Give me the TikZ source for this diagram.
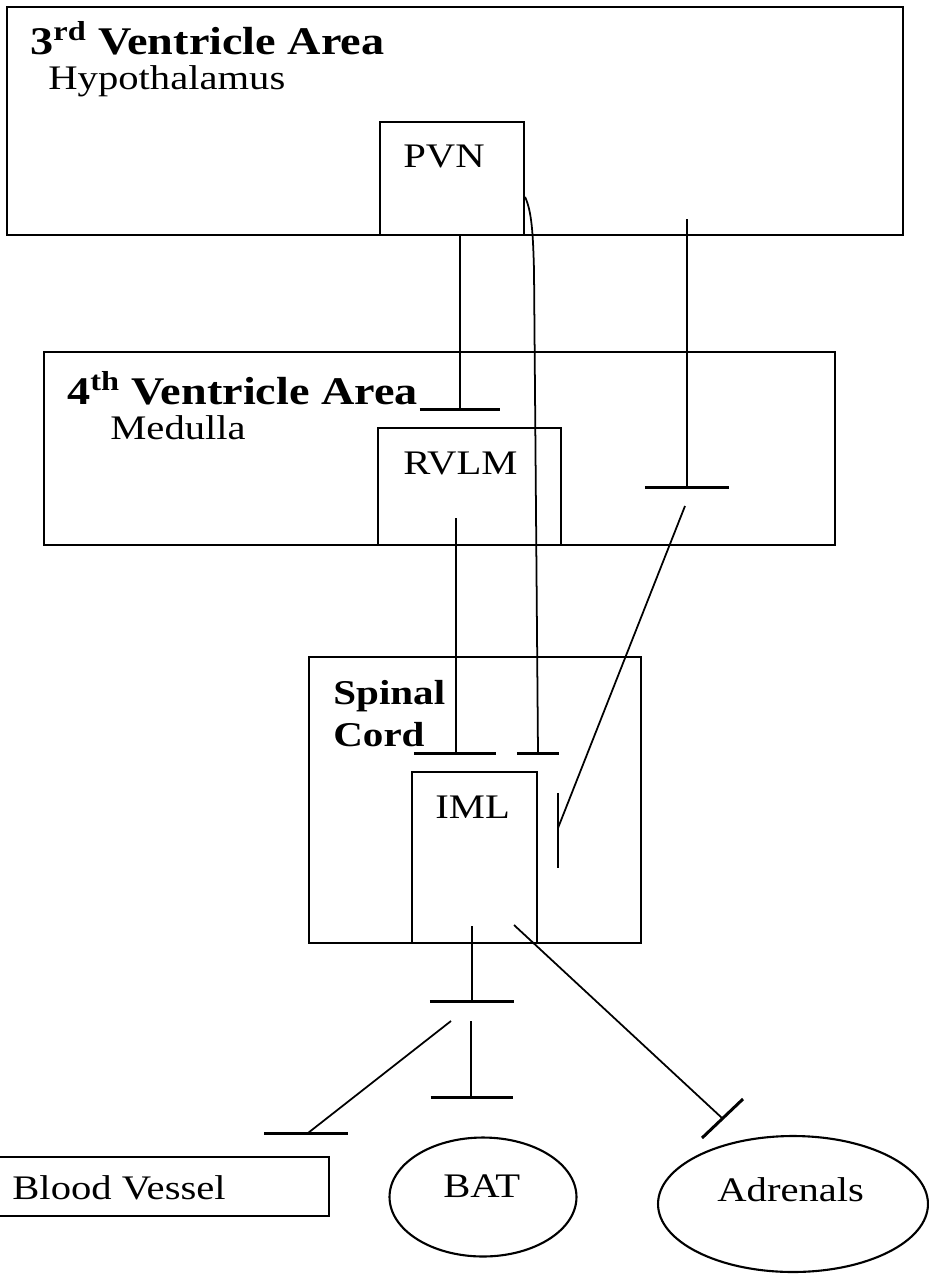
\documentclass[tikz,border=0pt]{standalone}
\usepackage{fontspec}
\setmainfont{Liberation Serif}[FakeStretch=1.18]
\usetikzlibrary{fit,calc,shapes.geometric}

\begin{document}
\begin{tikzpicture}[
  x=0.02cm, y=-0.02cm,
  region/.style={draw, line width=1.2pt, inner sep=0pt},
  organ/.style={draw, ellipse, line width=1.2pt, inner sep=0pt},
  lbl/.style={anchor=base west, inner sep=0pt, font=\fontsize{19.6}{23}\selectfont},
  head/.style={anchor=base west, inner sep=0pt, font=\fontsize{22.3}{26}\selectfont\bfseries},
  fib/.style={line width=1pt},
  stop/.style={line width=1.7pt}
]
  \useasboundingbox (0,0) rectangle (929,1275);

  % Regions and nuclei
  \node[region, fit={(7,7) (903,235)}] (hypo) {};
  \node[region, fit={(380,122) (524,235)}] (pvn) {};
  \node[region, fit={(44,352) (835,545)}] (medulla) {};
  \node[region, fit={(378,428) (561,545)}] (rvlm) {};
  \node[region, fit={(309,657) (641,943)}] (spinal) {};
  \node[region, fit={(412,772) (537,943)}] (iml) {};

  % Targets
  \node[region, fit={(-10,1157) (329,1216)}] (vessel) {};
  \node[organ, minimum width=3.74cm, minimum height=2.38cm] (bat) at (483,1197) {};
  \node[organ, minimum width=5.4cm, minimum height=2.72cm] (adrenals) at (793,1204) {};

  % Labels
  \node[head] (hypotitle) at (30,54) {3\textsuperscript{rd} Ventricle Area};
  \node[lbl] (hypolbl) at (48,89) {Hypothalamus};
  \node[lbl] (pvnlbl) at (403,167) {PVN};
  \node[head] (medtitle) at (67,404) {4\textsuperscript{th} Ventricle Area};
  \node[lbl] (medlbl) at (110,439) {Medulla};
  \node[lbl] (rvlmlbl) at (403,474) {RVLM};
  \node[lbl, font=\fontsize{19.8}{23}\selectfont\bfseries] (spinallbl) at (333,704) {Spinal};
  \node[lbl, font=\fontsize{19.8}{23}\selectfont\bfseries] (cordlbl) at (333,746) {Cord};
  \node[lbl] (imllbl) at (435,818) {IML};
  \node[lbl] (vessellbl) at (12,1199) {Blood Vessel};
  \node[lbl] (batlbl) at (443,1197) {BAT};
  \node[lbl] (adrlbl) at (717,1201) {Adrenals};

  % PVN -> RVLM
  \coordinate (s1) at (460,409);
  \draw[fib] (pvn.south -| s1) -- (s1);
  \draw[stop] ([xshift=-23pt]s1) -- ([xshift=23pt]s1);

  % PVN -> IML (long fibre)
  \coordinate (p1) at ($(pvn.north east)!0.66!(pvn.south east)$);
  \coordinate (s2) at (538,753);
  \draw[fib] (p1) .. controls (532,212) and (533,235) .. (534,270) -- (s2);
  \draw[stop] ([xshift=-12pt]s2) -- ([xshift=12pt]s2);

  % Hypothalamus -> medulla relay
  \coordinate (h1) at (687,219);
  \coordinate (s3) at (687,487);
  \draw[fib] (h1) -- (s3);
  \draw[stop] ([xshift=-24pt]s3) -- ([xshift=24pt]s3);

  % Medulla relay -> IML side
  \coordinate (m1) at (685,506);
  \coordinate (s4) at (558,828);
  \draw[fib] (m1) -- (s4);
  \draw[stop] ([yshift=20pt]s4) -- ([yshift=-23pt]s4);

  % RVLM -> IML
  \coordinate (r1) at (456,518);
  \coordinate (s5) at (456,753);
  \draw[fib] (r1) -- (s5);
  \draw[stop] ([xshift=-24pt]s5) -- ([xshift=23pt]s5);

  % IML -> ganglion
  \coordinate (i1) at (472,926);
  \coordinate (s6) at (472,1001);
  \draw[fib] (i1) -- (s6);
  \draw[stop] ([xshift=-24pt]s6) -- ([xshift=24pt]s6);

  % ganglion -> blood vessel
  \coordinate (g1) at (451,1021);
  \coordinate (s7) at (308,1133);
  \draw[fib] (g1) -- (s7);
  \draw[stop] ([xshift=-25pt]s7) -- ([xshift=23pt]s7);

  % ganglion -> BAT
  \coordinate (g2) at (471,1021);
  \coordinate (s8) at (471,1097);
  \draw[fib] (g2) -- (s8);
  \draw[stop] ([xshift=-23pt]s8) -- ([xshift=24pt]s8);

  % IML -> adrenals
  \coordinate (i2) at (514,925);
  \coordinate (s9) at (722,1118);
  \draw[fib] (i2) -- (s9);
  \draw[stop] ([shift={(-20,20)}]s9) -- ([shift={(21,-19)}]s9);
\end{tikzpicture}
\end{document}
